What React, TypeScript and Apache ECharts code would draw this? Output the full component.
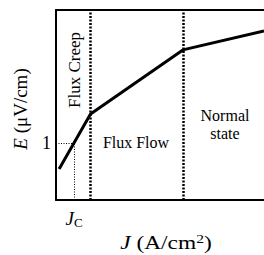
import React, { useEffect, useRef } from "react";
import * as echarts from "echarts";

// E–J characteristic (arbitrary units)
const jValues = [1.5, 16.6, 61, 100];
const eValues = [16.3, 45.3, 79, 89];
const regionBoundaries = [16.6, 61];
const jc = 8.7;
const eAtOne = 30;
const yTickLabels = ["1"];
const regionNames = ["Flux Creep", "Flux Flow", "Normal\nstate"];

const FONT = '"Liberation Serif", "Times New Roman", serif';

export default function App() {
  const ref = useRef<HTMLDivElement>(null);
  useEffect(() => {
    if (!ref.current) return;
    const chart = echarts.init(ref.current, null, { renderer: "svg" });
    const black = "#000";
    chart.setOption({
      animation: false,
      backgroundColor: "#fff",
      grid: { left: 56, top: 10, right: 0, bottom: 55 },
      xAxis: [
        {
          type: "value",
          min: 0,
          max: 100,
          axisLine: { show: true, lineStyle: { color: black, width: 2 } },
          axisTick: { show: false },
          splitLine: { show: false },
          axisLabel: {
            customValues: [jc],
            formatter: () => "{j|J}{c|C}",
            margin: 8,
            color: black,
            rich: {
              j: { fontFamily: FONT, fontSize: 19, fontStyle: "italic", color: black },
              c: { fontFamily: FONT, fontSize: 13, color: black, padding: [8, 0, 0, 0] },
            },
          },
        },
        {
          type: "value",
          position: "top",
          min: 0,
          max: 100,
          axisLine: { show: true, lineStyle: { color: black, width: 2 } },
          axisTick: { show: false },
          axisLabel: { show: false },
          splitLine: { show: false },
        },
      ],
      yAxis: {
        type: "value",
        min: 0,
        max: 100,
        axisLine: { show: true, lineStyle: { color: black, width: 2 } },
        axisTick: { show: false },
        splitLine: { show: false },
        axisLabel: {
          customValues: [eAtOne],
          formatter: () => yTickLabels[0],
          margin: 5,
          fontFamily: FONT,
          fontSize: 18,
          color: black,
        },
        name: "{i|E} (μV/cm)",
        nameLocation: "middle",
        nameGap: 26,
        nameRotate: 90,
        nameTextStyle: {
          fontFamily: FONT,
          fontSize: 19,
          color: black,
          padding: [0, 8, 0, 0],
          rich: {
            i: { fontFamily: FONT, fontSize: 19, fontStyle: "italic", color: black },
          },
        },
      },
      series: [
        {
          type: "line",
          data: jValues.map((j, i) => [j, eValues[i]]),
          symbol: "none",
          lineStyle: { color: black, width: 3 },
          markLine: {
            silent: true,
            symbol: "none",
            label: { show: false },
            data: [
              ...regionBoundaries.map((b) => ({
                xAxis: b,
                lineStyle: { color: black, width: 2.5, type: [2, 1.5] },
              })),
              [
                { coord: [jc, 0], lineStyle: { color: black, width: 1, type: [1, 1.5] } },
                { coord: [jc, eAtOne] },
              ],
              [
                { coord: [0, eAtOne], lineStyle: { color: black, width: 1, type: [1, 1.5] } },
                { coord: [jc, eAtOne] },
              ],
            ],
          },
        },
      ],
      graphic: [
        {
          type: "text",
          x: 74,
          y: 70,
          rotation: Math.PI / 2,
          style: {
            text: regionNames[0],
            fontFamily: FONT,
            fontSize: 17,
            fill: black,
            align: "center",
            verticalAlign: "middle",
          },
        },
        {
          type: "text",
          x: 136,
          y: 142,
          style: {
            text: regionNames[1],
            fontFamily: FONT,
            fontSize: 16,
            fill: black,
            align: "center",
            verticalAlign: "middle",
          },
        },
        {
          type: "text",
          x: 225,
          y: 124,
          style: {
            text: regionNames[2],
            fontFamily: FONT,
            fontSize: 16,
            lineHeight: 18,
            fill: black,
            align: "center",
            verticalAlign: "middle",
          },
        },
        {
          type: "text",
          x: 166,
          y: 243,
          scaleX: 1.3,
          style: {
            text: "{i|J} (A/cm{s|2})",
            fontFamily: FONT,
            fontSize: 18,
            fill: black,
            align: "center",
            verticalAlign: "middle",
            rich: {
              i: { fontFamily: FONT, fontSize: 18, fontStyle: "italic", fill: black },
              s: { fontFamily: FONT, fontSize: 12, fill: black, padding: [0, 0, 8, 0] },
            },
          },
        },
      ],
    });
    return () => chart.dispose();
  }, []);
  return (
    <div
      ref={ref}
      style={{ position: "absolute", left: 0, top: 0, width: 264, height: 255 }}
    />
  );
}
